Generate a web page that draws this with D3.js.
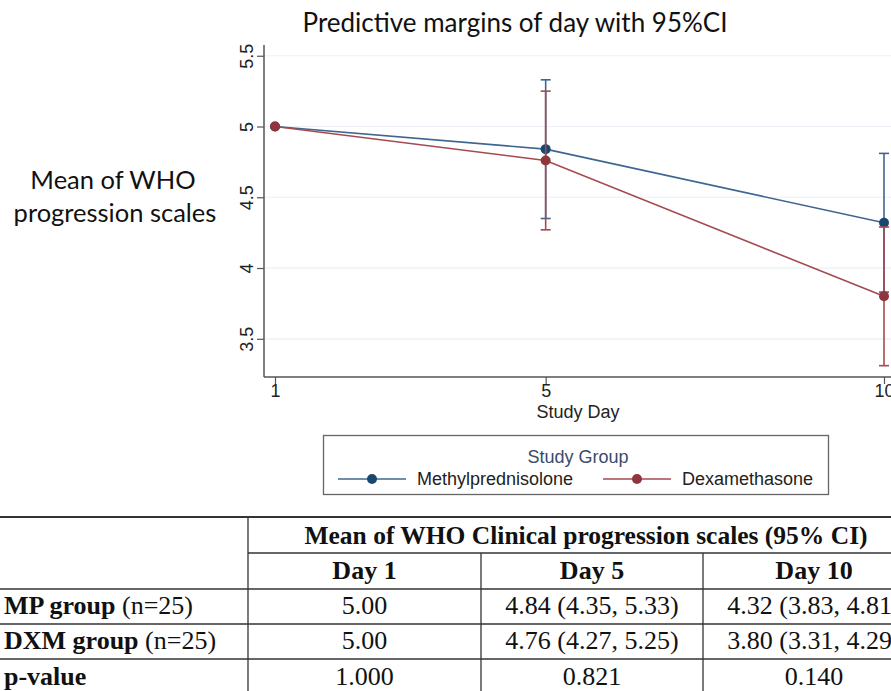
<!DOCTYPE html>
<html>
<head>
<meta charset="utf-8">
<script src="https://cdn.jsdelivr.net/npm/d3@7"></script>
<style>
  body { margin: 0; background: #ffffff; }
  svg { display: block; }
</style>
</head>
<body>
<div id="chart"></div>
<script>
// data
var days = [1, 5, 10]
var yTicks = [3.5, 4, 4.5, 5, 5.5]

var mpMean = [5.00, 4.84, 4.32]
var mpLow = [5.00, 4.35, 3.83]
var mpHigh = [5.00, 5.33, 4.81]

var dxmMean = [5.00, 4.76, 3.80]
var dxmLow = [5.00, 4.27, 3.31]
var dxmHigh = [5.00, 5.25, 4.29]

var seriesNames = ['Methylprednisolone', 'Dexamethasone']

var tableTitle = 'Mean of WHO Clinical progression scales (95% CI)'
var tableHeads = ['Day 1', 'Day 5', 'Day 10']
var rowLabelsBold = ['MP group', 'DXM group', 'p-value']
var rowLabelsPlain = [' (n=25)', ' (n=25)', '']
var rowMP = ['5.00', '4.84 (4.35, 5.33)', '4.32 (3.83, 4.81)']
var rowDXM = ['5.00', '4.76 (4.27, 5.25)', '3.80 (3.31, 4.29)']
var rowP = ['1.000', '0.821', '0.140']

var W = 891, H = 691
var svg = d3.select('#chart').append('svg')
    .attr('width', W)
    .attr('height', H)

var blue = '#1a476f', red = '#90353b'
var blueLine = '#3f6690', redLine = '#a44a50'
var sans = '"Liberation Sans", Arial, sans-serif'
var titleFont = 'Lato, "Open Sans", sans-serif'

var x = d3.scaleLinear().domain([1, 10]).range([275, 884])
var y = d3.scaleLinear().domain([3.23, 5.576]).range([377, 45])
var plotLeft = 264

// title
svg.append('text')
    .attr('x', 515)
    .attr('y', 32)
    .attr('text-anchor', 'middle')
    .attr('font-family', titleFont)
    .attr('font-size', 26)
    .attr('fill', '#111')
    .text('Predictive margins of day with 95%CI')

// y title
var yTitle = svg.append('text')
    .attr('text-anchor', 'middle')
    .attr('font-family', titleFont)
    .attr('font-size', 25.5)
    .attr('fill', '#111')
yTitle.append('tspan').attr('x', 113).attr('y', 189).text('Mean of WHO')
yTitle.append('tspan').attr('x', 115).attr('y', 222).text('progression scales')

// gridlines
svg.selectAll('line.grid')
    .data(yTicks)
    .enter()
    .append('line')
    .attr('class', 'grid')
    .attr('x1', plotLeft + 1)
    .attr('x2', W)
    .attr('y1', function(d){ return y(d) })
    .attr('y2', function(d){ return y(d) })
    .attr('stroke', '#eaf0f5')
    .attr('stroke-width', 1.2)

// axes
var yAxis = svg.append('g')
    .attr('transform', 'translate(' + plotLeft + ',0)')
    .call(d3.axisLeft(y).tickValues(yTicks).tickSize(7).tickFormat(d3.format('')))
yAxis.select('.domain').attr('stroke', '#555').attr('stroke-width', 1.5)
yAxis.selectAll('.tick line').attr('stroke', '#555').attr('stroke-width', 1.2)
yAxis.selectAll('.tick text')
    .attr('transform', 'rotate(-90)')
    .attr('x', 0)
    .attr('y', -11)
    .attr('dy', 0)
    .attr('text-anchor', 'middle')
    .attr('font-family', sans)
    .attr('font-size', 18)
    .attr('fill', '#222')
yAxis.select('.domain').attr('d', 'M0,' + y.range()[1] + 'V' + y.range()[0])

var xAxis = svg.append('g')
    .attr('transform', 'translate(0,377)')
    .call(d3.axisBottom(x).tickValues(days).tickSize(7).tickFormat(d3.format('d')))
xAxis.select('.domain').attr('d', 'M' + plotLeft + ',0H' + W).attr('stroke', '#555').attr('stroke-width', 1.5)
xAxis.selectAll('.tick line').attr('stroke', '#555').attr('stroke-width', 1.2)
xAxis.selectAll('.tick text')
    .attr('y', 20)
    .attr('dy', 0)
    .attr('font-family', sans)
    .attr('font-size', 18)
    .attr('fill', '#222')

svg.append('text')
    .attr('x', 578)
    .attr('y', 418)
    .attr('text-anchor', 'middle')
    .attr('font-family', sans)
    .attr('font-size', 18)
    .attr('fill', '#222')
    .text('Study Day')

// series
function drawSeries(mean, low, high, lineColor, color){
    var pts = days.map(function(d, i){ return {day: d, m: mean[i], lo: low[i], hi: high[i]} })
    var bars = pts.filter(function(p){ return p.hi > p.lo })

    svg.append('path')
        .datum(pts)
        .attr('d', d3.line().x(function(p){ return x(p.day) }).y(function(p){ return y(p.m) }))
        .attr('fill', 'none')
        .attr('stroke', lineColor)
        .attr('stroke-width', 1.6)

    svg.selectAll(null).data(bars).enter().append('line')
        .attr('x1', function(p){ return x(p.day) })
        .attr('x2', function(p){ return x(p.day) })
        .attr('y1', function(p){ return y(p.lo) })
        .attr('y2', function(p){ return y(p.hi) })
        .attr('stroke', lineColor)
        .attr('stroke-width', 1.6)

    ;['lo', 'hi'].forEach(function(k){
        svg.selectAll(null).data(bars).enter().append('line')
            .attr('x1', function(p){ return x(p.day) - 5 })
            .attr('x2', function(p){ return x(p.day) + 5 })
            .attr('y1', function(p){ return y(p[k]) })
            .attr('y2', function(p){ return y(p[k]) })
            .attr('stroke', lineColor)
            .attr('stroke-width', 1.6)
    })

    svg.selectAll(null).data(pts).enter().append('circle')
        .attr('cx', function(p){ return x(p.day) })
        .attr('cy', function(p){ return y(p.m) })
        .attr('r', 5)
        .attr('fill', color)
}
drawSeries(mpMean, mpLow, mpHigh, blueLine, blue)
drawSeries(dxmMean, dxmLow, dxmHigh, redLine, red)

// legend
var legend = svg.append('g')
legend.append('rect')
    .attr('x', 323.5).attr('y', 435.5)
    .attr('width', 505).attr('height', 59)
    .attr('fill', '#fff')
    .attr('stroke', '#666')
    .attr('stroke-width', 1.3)
legend.append('text')
    .attr('x', 578).attr('y', 463)
    .attr('text-anchor', 'middle')
    .attr('font-family', sans)
    .attr('font-size', 18)
    .attr('fill', '#3a4a6a')
    .text('Study Group')

var legendItems = [
    {name: seriesNames[0], x0: 338, line: blueLine, color: blue},
    {name: seriesNames[1], x0: 603, line: redLine, color: red}
]
legendItems.forEach(function(it){
    legend.append('line')
        .attr('x1', it.x0).attr('x2', it.x0 + 68)
        .attr('y1', 479).attr('y2', 479)
        .attr('stroke', it.line).attr('stroke-width', 1.6)
    legend.append('circle')
        .attr('cx', it.x0 + 34).attr('cy', 479).attr('r', 5)
        .attr('fill', it.color)
    legend.append('text')
        .attr('x', it.x0 + 79).attr('y', 485)
        .attr('font-family', sans)
        .attr('font-size', 18)
        .attr('fill', '#222')
        .text(it.name)
})

// table
var colEdges = [0, 248, 481, 703, 925]
var rowLines = [517, 553, 589, 624, 659]
var tfont = '"Liberation Serif", "Times New Roman", serif'
var tsize = 26
var tcolor = '#111'
var lineColor = '#333'

svg.append('line').attr('x1', 0).attr('x2', W).attr('y1', 517).attr('y2', 517)
    .attr('stroke', lineColor).attr('stroke-width', 2)
svg.append('line').attr('x1', colEdges[1]).attr('x2', W).attr('y1', 553).attr('y2', 553)
    .attr('stroke', lineColor).attr('stroke-width', 1.3)
rowLines.slice(2).forEach(function(ly){
    svg.append('line').attr('x1', 0).attr('x2', W).attr('y1', ly).attr('y2', ly)
        .attr('stroke', lineColor).attr('stroke-width', 1.3)
})
svg.append('line').attr('x1', colEdges[1]).attr('x2', colEdges[1]).attr('y1', 517).attr('y2', H)
    .attr('stroke', lineColor).attr('stroke-width', 1.3)
;[2, 3].forEach(function(c){
    svg.append('line').attr('x1', colEdges[c]).attr('x2', colEdges[c]).attr('y1', 553).attr('y2', H)
        .attr('stroke', lineColor).attr('stroke-width', 1.3)
})

svg.append('text')
    .attr('x', 586)
    .attr('y', 544)
    .attr('text-anchor', 'middle')
    .attr('font-family', tfont)
    .attr('font-size', 25.5)
    .attr('font-weight', 'bold')
    .attr('fill', tcolor)
    .text(tableTitle)

tableHeads.forEach(function(h, i){
    svg.append('text')
        .attr('x', (colEdges[i + 1] + colEdges[i + 2]) / 2)
        .attr('y', 579)
        .attr('text-anchor', 'middle')
        .attr('font-family', tfont)
        .attr('font-size', tsize)
        .attr('font-weight', 'bold')
        .attr('fill', tcolor)
        .text(h)
})

var rowBase = [614, 649, 685]
var bodyRows = [rowMP, rowDXM, rowP]
bodyRows.forEach(function(row, r){
    var lab = svg.append('text')
        .attr('x', 4)
        .attr('y', rowBase[r])
        .attr('font-family', tfont)
        .attr('font-size', tsize)
        .attr('fill', tcolor)
    lab.append('tspan').attr('font-weight', 'bold').text(rowLabelsBold[r])
    if(rowLabelsPlain[r]) lab.append('tspan').text(rowLabelsPlain[r])

    row.forEach(function(v, i){
        svg.append('text')
            .attr('x', (colEdges[i + 1] + colEdges[i + 2]) / 2)
            .attr('y', rowBase[r])
            .attr('text-anchor', 'middle')
            .attr('font-family', tfont)
            .attr('font-size', tsize)
            .attr('fill', tcolor)
            .text(v)
    })
})
</script>
</body>
</html>
